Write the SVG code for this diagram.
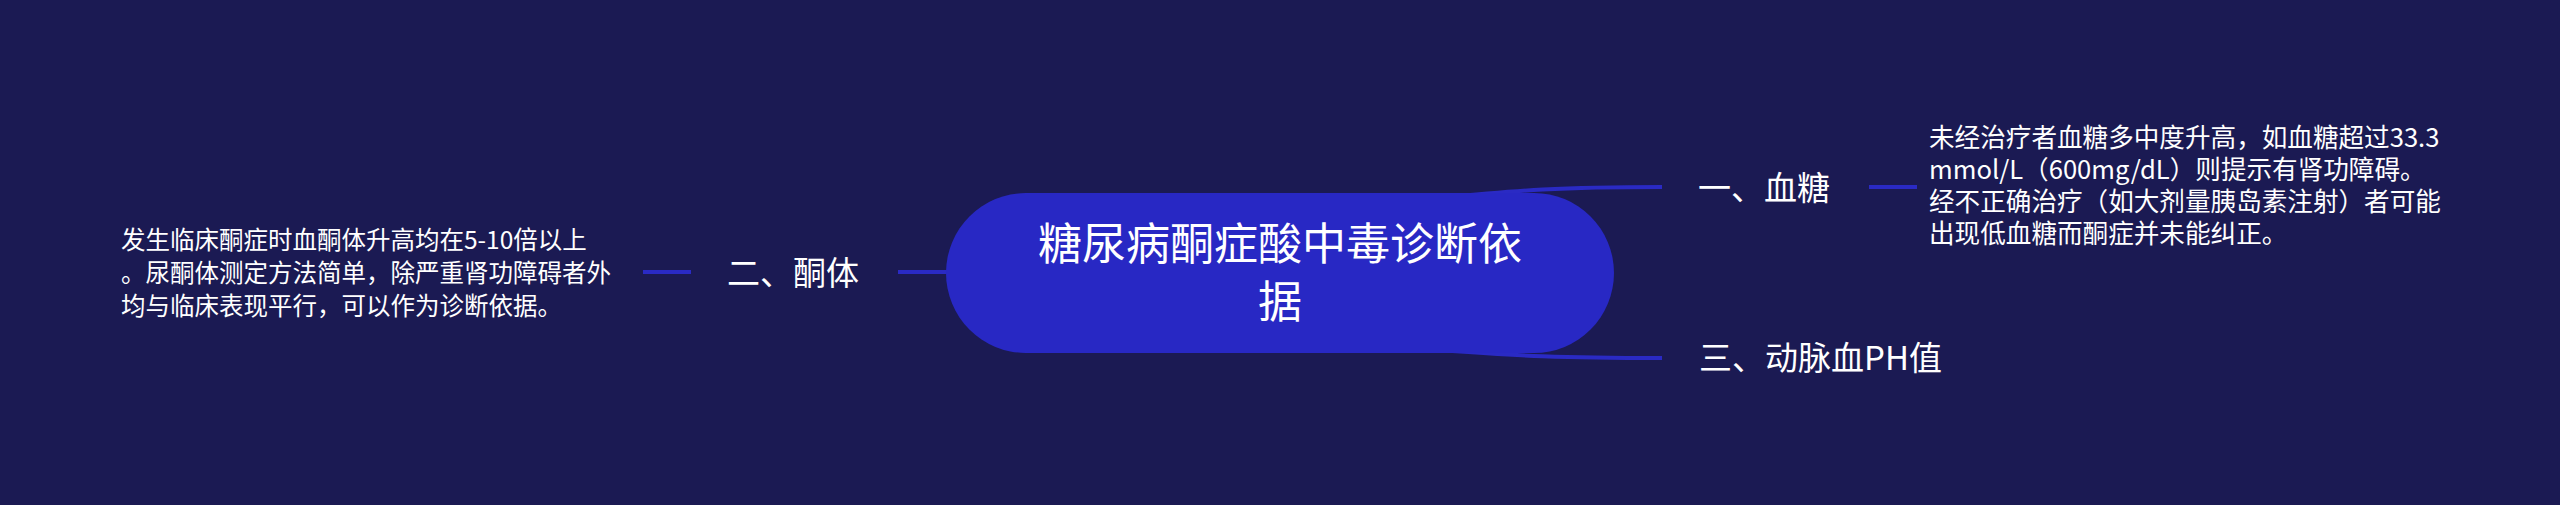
<svg xmlns="http://www.w3.org/2000/svg" width="2560" height="505" viewBox="0 0 2560 505">
<style>
.t{font-family:"Noto Sans CJK SC","Noto Sans",sans-serif;fill:#ffffff}
.c{font-size:44px}
.m{font-size:33px}
.s{font-size:25.6px}
.sl{font-size:24.5px}
.ln{fill:none;stroke:#2a2ac4;stroke-width:4;stroke-linecap:butt}
</style>
<rect x="0" y="0" width="2560" height="505" fill="#1b1a53"/>
<g id="connectors">
<path class="ln" d="M1440,198 C1520,190 1560,187 1662,187"/>
<path class="ln" d="M1440,350 C1520,356 1560,358 1662,358"/>
<path class="ln" d="M898,272 L950,272"/>
<path class="ln" d="M1869,187 L1917,187"/>
<path class="ln" d="M643,272 L691,272"/>
</g>
<g id="root">
<rect x="946" y="193" width="668" height="160" rx="80" ry="80" fill="#2828c4"/>
<text class="t c" x="1280" y="260" text-anchor="middle">糖尿病酮症酸中毒诊断依</text>
<text class="t c" x="1280" y="318" text-anchor="middle">据</text>
</g>
<g id="node1">
<text class="t m" x="1698" y="200">一、血糖</text>
</g>
<g id="node1-detail">
<text class="t s" x="1929" y="147">未经治疗者血糖多中度升高，如血糖超过33.3</text>
<text class="t s" x="1929" y="179">mmol/L（600mg/dL）则提示有肾功障碍。</text>
<text class="t s" x="1929" y="211">经不正确治疗（如大剂量胰岛素注射）者可能</text>
<text class="t s" x="1929" y="243">出现低血糖而酮症并未能纠正。</text>
</g>
<g id="node2">
<text class="t m" x="727" y="285">二、酮体</text>
</g>
<g id="node2-detail">
<text class="t sl" x="121" y="249">发生临床酮症时血酮体升高均在5-10倍以上</text>
<text class="t sl" x="121" y="282">。尿酮体测定方法简单，除严重肾功障碍者外</text>
<text class="t sl" x="121" y="315">均与临床表现平行，可以作为诊断依据。</text>
</g>
<g id="node3">
<text class="t m" x="1699" y="370">三、动脉血PH值</text>
</g>
</svg>
